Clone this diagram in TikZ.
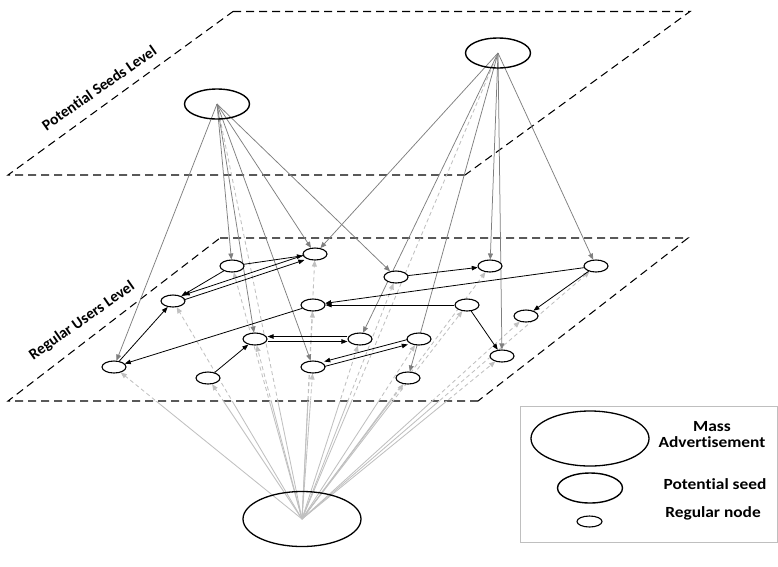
\documentclass[tikz,border=0pt]{standalone}
\usepackage{fontspec}
\setmainfont{Carlito}[Ligatures=NoCommon]
\usetikzlibrary{arrows.meta,shapes.geometric}
\pgfdeclarelayer{bg}
\pgfsetlayers{bg,main}
\definecolor{sgray}{HTML}{7F7F7F}
\definecolor{lgray}{HTML}{C0C0C0}
\definecolor{boxgray}{HTML}{BFBFBF}
\begin{document}
\begin{tikzpicture}[x=1pt,y=-1pt,
  reg/.style={ellipse, draw, line width=1.1pt, fill=white, minimum width=24pt, minimum height=12pt, inner sep=0pt},
  seed/.style={ellipse, draw, line width=1.4pt, minimum width=65pt, minimum height=30pt, inner sep=0pt},
  mass/.style={ellipse, draw, line width=1.3pt, minimum width=118pt, minimum height=55pt, inner sep=0pt},
  plane/.style={draw=black, dash pattern=on 8pt off 5pt, line width=1.05pt},
  lvl/.style={font=\bfseries\fontsize{15.5}{17}\selectfont, rotate=35, inner sep=0pt},
  legtxt/.style={font=\bfseries\fontsize{15.5}{16}\selectfont, align=center, xscale=1.12, inner sep=0pt},
  sedge/.style={draw=sgray, line width=0.75pt, -{Triangle[length=6pt,width=5pt]}},
  medge/.style={draw=lgray, line width=0.85pt},
  mtip/.style={-{Triangle[length=6pt,width=5pt]}},
  blk/.style={draw=black, line width=0.8pt, -{Triangle[length=6pt,width=4.5pt]}}
]
\useasboundingbox (0,0) rectangle (778,566);

% seeds and mass advertisement
\node[seed] (s1) at (217,104) {};
\node[seed] (s2) at (498,53) {};
\node[mass] (ma) at (302,519) {};

% regular nodes
\node[reg] (A) at (232,266) {};
\node[reg] (B) at (315,254) {};
\node[reg] (C) at (173,301) {};
\node[reg] (D) at (313,305) {};
\node[reg] (E) at (255,339) {};
\node[reg] (F) at (360,339) {};
\node[reg] (G) at (114,367) {};
\node[reg] (H) at (208,378) {};
\node[reg] (I) at (313,367) {};
\node[reg] (J) at (396,277) {};
\node[reg] (K) at (490,266) {};
\node[reg] (L) at (596,266) {};
\node[reg] (M) at (467,305) {};
\node[reg] (N) at (526,316) {};
\node[reg] (O) at (419,339) {};
\node[reg] (P) at (502,356) {};
\node[reg] (Q) at (408,378) {};

% level labels
\node[lvl] (lt) at (99,88) {Potential Seeds Level};
\node[lvl] (lb) at (82,321) {Regular Users Level};

\begin{pgfonlayer}{bg}
  % planes
  \draw[plane] (233,11.5) -- (690,11.5) -- (465,175);
  \draw[plane] (465,175) -- (8,175) -- (233,11.5);
  \draw[plane] (220,238) -- (688,238) -- (478,401);
  \draw[plane] (478,401) -- (8,401) -- (220,238);

  % mass advertisement edges: solid below the lower plane, dashed above
  \begin{scope}
    \clip (0,401) rectangle (778,566);
    \foreach \t in {A,B,C,D,E,F,G,H,I,J,K,L,M,N,O,P,Q}
      \draw[medge] (ma.center) -- (\t);
    \draw[medge] (ma.center) -- (s1.center);
    \draw[medge] (ma.center) -- (s2.center);
  \end{scope}
  \begin{scope}
    \clip (0,0) rectangle (778,401);
    \foreach \t in {A,B,C,D,E,F,G,H,I,J,K,L,M,N,O,P,Q}
      \draw[medge, mtip, dash pattern=on 4pt off 3pt] (ma.center) -- (\t);
    \draw[medge, dash pattern=on 4pt off 3pt] (ma.center) -- (s1.center);
    \draw[medge, dash pattern=on 4pt off 3pt] (ma.center) -- (s2.center);
  \end{scope}

  % seed edges
  \foreach \t in {G,A,E,I,B,J}
    \draw[sedge] (s1.center) -- (\t);
  \foreach \t in {B,F,Q,K,P,L}
    \draw[sedge] (s2.center) -- (\t);
\end{pgfonlayer}

% regular-user edges
\draw[blk] (A) -- (B);
\draw[blk] (A) -- (C);
\draw[blk, transform canvas={shift={(0pt,2.5pt)}}] (B) -- (C);
\draw[blk, transform canvas={shift={(0pt,-2.5pt)}}] (C) -- (B);
\draw[blk] (G) -- (C);
\draw[blk] (D) -- (G);
\draw[blk] (M) -- (D);
\draw[blk] (L) -- (D);
\draw[blk] (H) -- (E);
\draw[blk, transform canvas={shift={(0pt,2.5pt)}}] (F) -- (E);
\draw[blk, transform canvas={shift={(0pt,-2.5pt)}}] (E) -- (F);
\draw[blk, transform canvas={shift={(0pt,2.5pt)}}] (O) -- (I);
\draw[blk, transform canvas={shift={(0pt,-2.5pt)}}] (I) -- (O);
\draw[blk] (J) -- (K);
\draw[blk] (L) -- (N);
\draw[blk] (M) -- (P);

% legend
\draw[boxgray, line width=0.8pt] (520,406) rectangle (777,542);
\node[mass] (lm) at (590,438.5) {};
\node[seed] (ls) at (590,488) {};
\node[reg, minimum width=25pt, minimum height=11pt] (lr) at (589.5,521.5) {};
\node[legtxt] (tm) at (712,435) {Mass\\Advertisement};
\node[legtxt] (ts) at (715,484) {Potential seed};
\node[legtxt] (tr) at (713,513) {Regular node};
\end{tikzpicture}
\end{document}
